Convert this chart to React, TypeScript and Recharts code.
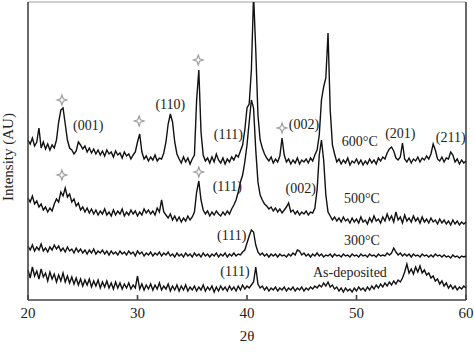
import { LineChart, Line, XAxis, YAxis, ReferenceDot, ReferenceLine } from "recharts";

// 2θ grid, 0.2° step from 20° to 60°
const angles: number[] = Array.from({ length: 201 }, (_, i) => Math.round((20 + i * 0.2) * 10) / 10);

// intensities (arbitrary units, traces already offset), one value per grid step
const annealed600 = [
    160, 156, 162, 154, 158, 172, 152, 158, 151, 156,
    150, 155, 152, 160, 178, 190, 192, 176, 160, 152,
    150, 146, 149, 158, 155, 151, 154, 148, 152, 147,
    151, 146, 150, 145, 149, 144, 150, 146, 148, 143,
    149, 145, 147, 142, 148, 144, 146, 141, 145, 148,
    158, 166, 148, 141, 144, 139, 143, 140, 145, 139,
    142, 141, 147, 158, 176, 186, 178, 158, 146, 141,
    137, 143, 138, 142, 136, 141, 145, 200, 230, 168,
    145, 139, 142, 137, 143, 138, 146, 140, 137, 142,
    136, 141, 138, 143, 140, 145, 143, 149, 155, 170,
    192, 196, 230, 305, 250, 185, 160, 152, 146, 142,
    139, 143, 137, 141, 138, 144, 162, 145, 138, 141,
    136, 140, 137, 142, 136, 140, 138, 141, 137, 142,
    139, 145, 150, 165, 200, 213, 222, 267, 190, 155,
    146, 138, 141, 136, 140, 137, 142, 135, 139, 137,
    141, 136, 140, 135, 139, 136, 141, 137, 140, 136,
    142, 139, 143, 141, 147, 151, 153, 149, 142, 140,
    143, 157, 141, 138, 142, 137, 141, 139, 143, 138,
    142, 140, 144, 141, 146, 156, 150, 141, 139, 143,
    138, 142, 141, 148, 145, 138, 141, 136, 140, 137,
    139,
];

const annealed500 = [
    102, 98, 104, 96, 99, 93, 96, 90, 93, 88,
    92, 89, 96, 101, 98, 108, 104, 112, 103, 106,
    98, 101, 94, 97, 90, 93, 88, 92, 87, 91,
    86, 90, 85, 89, 86, 91, 85, 88, 84, 90,
    85, 89, 86, 91, 84, 88, 85, 90, 86, 89,
    84, 88, 85, 91, 87, 90, 86, 89, 85, 92,
    88, 100, 88, 85, 82, 86, 80, 84, 79, 83,
    78, 82, 79, 84, 80, 83, 88, 108, 119, 100,
    90, 86, 89, 84, 88, 85, 89, 86, 84, 88,
    85, 89, 86, 91, 95, 100, 108, 118, 125, 138,
    155, 178, 200, 192, 150, 118, 105, 100, 96, 94,
    91, 93, 89, 92, 88, 91, 87, 90, 93, 97,
    88, 90, 86, 89, 85, 88, 86, 89, 85, 88,
    87, 92, 110, 145, 160, 140, 105, 88, 84, 80,
    83, 79, 82, 78, 83, 79, 81, 77, 82, 78,
    81, 77, 83, 78, 80, 76, 82, 78, 84, 79,
    81, 77, 83, 79, 86, 80, 84, 78, 88, 80,
    83, 77, 85, 79, 82, 78, 84, 79, 82, 77,
    83, 78, 81, 77, 82, 78, 80, 76, 81, 77,
    80, 76, 79, 75, 80, 76, 79, 75, 78, 76,
    78,
];

const annealed300 = [
    54, 50, 55, 49, 53, 50, 56, 49, 52, 48,
    53, 50, 55, 51, 54, 49, 52, 48, 53, 49,
    51, 47, 52, 48, 51, 47, 50, 46, 50, 47,
    51, 46, 49, 47, 50, 46, 49, 45, 49, 46,
    48, 45, 49, 46, 48, 45, 49, 46, 48, 44,
    49, 46, 48, 44, 47, 45, 48, 44, 47, 45,
    48, 44, 47, 45, 48, 44, 46, 43, 47, 44,
    46, 43, 47, 44, 46, 43, 47, 44, 46, 43,
    47, 44, 46, 43, 46, 44, 47, 43, 46, 44,
    47, 43, 46, 44, 47, 44, 46, 45, 48, 50,
    57, 64, 70, 68, 55, 48, 45, 47, 44, 46,
    43, 46, 44, 46, 43, 46, 44, 45, 43, 46,
    44, 47, 45, 50, 49, 45, 47, 44, 46, 43,
    46, 44, 47, 44, 46, 43, 45, 44, 46, 43,
    46, 44, 45, 43, 46, 44, 45, 43, 46, 44,
    45, 43, 46, 44, 45, 43, 46, 44, 45, 43,
    46, 44, 45, 44, 47, 45, 47, 52, 48, 45,
    47, 44, 46, 44, 46, 43, 46, 44, 45, 43,
    46, 44, 45, 43, 45, 43, 46, 44, 45, 43,
    45, 43, 44, 42, 45, 43, 44, 42, 44, 43,
    44,
];

const asDeposited = [
    30, 22, 33, 24, 29, 21, 31, 23, 27, 19,
    28, 21, 26, 18, 25, 19, 27, 18, 24, 17,
    23, 16, 22, 15, 21, 14, 20, 15, 21, 13,
    19, 14, 20, 12, 18, 13, 19, 12, 17, 11,
    18, 12, 17, 11, 16, 12, 17, 11, 15, 12,
    24, 11, 16, 10, 15, 11, 16, 10, 15, 11,
    17, 10, 14, 11, 16, 9, 14, 10, 15, 9,
    14, 10, 15, 9, 13, 10, 14, 9, 13, 10,
    15, 9, 13, 10, 14, 8, 13, 9, 14, 10,
    13, 9, 14, 10, 13, 9, 14, 10, 15, 11,
    14, 12, 15, 18, 33, 16, 12, 14, 10, 13,
    9, 12, 10, 13, 9, 12, 10, 13, 9, 12,
    10, 13, 9, 12, 10, 13, 9, 12, 10, 13,
    11, 14, 12, 15, 13, 17, 14, 18, 13, 15,
    11, 13, 9, 12, 8, 12, 9, 11, 8, 12,
    9, 13, 10, 12, 9, 13, 10, 14, 11, 15,
    12, 16, 13, 17, 14, 18, 15, 19, 16, 20,
    18, 22, 28, 36, 27, 31, 26, 33, 28, 34,
    27, 30, 25, 27, 22, 24, 19, 21, 16, 19,
    14, 17, 12, 15, 11, 14, 10, 13, 11, 14,
    12,
];

const xTicks = [20, 30, 40, 50, 60];
const yTicks = [34, 70, 106, 142, 178, 214, 250, 286];

// annotations placed in data coordinates (2θ, intensity)
const peakLabels = [
    { x: 25.5, y: 175, text: "(001)" },
    { x: 33.0, y: 196, text: "(110)" },
    { x: 38.3, y: 166, text: "(111)" },
    { x: 45.2, y: 176, text: "(002)" },
    { x: 50.3, y: 159, text: "600°C" },
    { x: 54.0, y: 167, text: "(201)" },
    { x: 58.6, y: 163, text: "(211)" },
    { x: 38.2, y: 114, text: "(111)" },
    { x: 44.9, y: 112, text: "(002)" },
    { x: 50.5, y: 102, text: "500°C" },
    { x: 38.6, y: 65, text: "(111)" },
    { x: 50.5, y: 60, text: "300°C" },
    { x: 38.9, y: 29, text: "(111)" },
    { x: 49.4, y: 28, text: "As-deposited" },
];

const starMarks = [
    { x: 23.1, y: 200 },
    { x: 30.15, y: 179 },
    { x: 35.55, y: 240 },
    { x: 43.2, y: 172 },
    { x: 23.1, y: 125 },
    { x: 35.6, y: 128 },
];

const data = angles.map((a, i) => ({
    angle: a,
    t600: annealed600[i],
    t500: annealed500[i],
    t300: annealed300[i],
    asdep: asDeposited[i],
}));

const serif = '"Liberation Serif", "DejaVu Serif", serif';

const Star = (props: any) => {
    const { cx, cy } = props;
    const r = 5;
    const k = 1.3;
    const d = `M${cx},${cy - r} L${cx + k},${cy - k} L${cx + r},${cy} L${cx + k},${cy + k} L${cx},${cy + r} L${cx - k},${cy + k} L${cx - r},${cy} L${cx - k},${cy - k} Z`;
    return <path d={d} fill="#fff" stroke="#9a9a9a" strokeWidth={1.1} />;
};

const TextMark = (text: string) => (props: any) => (
    <text
        x={props.cx}
        y={props.cy}
        textAnchor="middle"
        dominantBaseline="central"
        fontFamily={serif}
        fontSize={14}
        fill="#222"
    >
        {text}
    </text>
);

const lines = ["t600", "t500", "t300", "asdep"];

const App = () => {
    return (
        <div style={{ position: "absolute", left: 0, top: 0, width: 474, height: 352, background: "#fff" }}>
            <LineChart width={474} height={352} data={data} margin={{ top: 2, right: 8, bottom: 22, left: 0 }}>
                <XAxis
                    type="number"
                    dataKey="angle"
                    domain={[20, 60]}
                    ticks={xTicks}
                    height={30}
                    tickSize={-5}
                    tickMargin={12}
                    stroke="#444"
                    strokeWidth={1.6}
                    tick={{ fill: "#222", fontSize: 15, fontFamily: serif }}
                    label={{
                        content: () => (
                            <text x={247} y={341} textAnchor="middle" fontFamily={serif} fontSize={15} fill="#222">
                                2θ
                            </text>
                        ),
                    }}
                />
                <YAxis
                    type="number"
                    domain={[0, 298]}
                    allowDataOverflow
                    ticks={yTicks}
                    width={28}
                    tickSize={-5}
                    tick={false}
                    stroke="#444"
                    strokeWidth={1.6}
                    label={{
                        content: () => (
                            <text
                                x={13}
                                y={157}
                                transform="rotate(-90 13 157)"
                                textAnchor="middle"
                                fontFamily={serif}
                                fontSize={15}
                                fill="#222"
                            >
                                Intensity (AU)
                            </text>
                        ),
                    }}
                />
                <ReferenceLine y={298} stroke="#cfcfcf" strokeWidth={2} />
                <ReferenceLine x={60} stroke="#444" strokeWidth={1.6} />
                {lines.map((k) => (
                    <Line
                        key={k}
                        type="linear"
                        dataKey={k}
                        stroke="#111"
                        strokeWidth={1.4}
                        dot={false}
                        isAnimationActive={false}
                    />
                ))}
                {starMarks.map((s, i) => (
                    <ReferenceDot key={"s" + i} x={s.x} y={s.y} r={5} shape={Star} />
                ))}
                {peakLabels.map((p, i) => (
                    <ReferenceDot key={"l" + i} x={p.x} y={p.y} r={1} shape={TextMark(p.text)} />
                ))}
            </LineChart>
        </div>
    );
};

export default App;
